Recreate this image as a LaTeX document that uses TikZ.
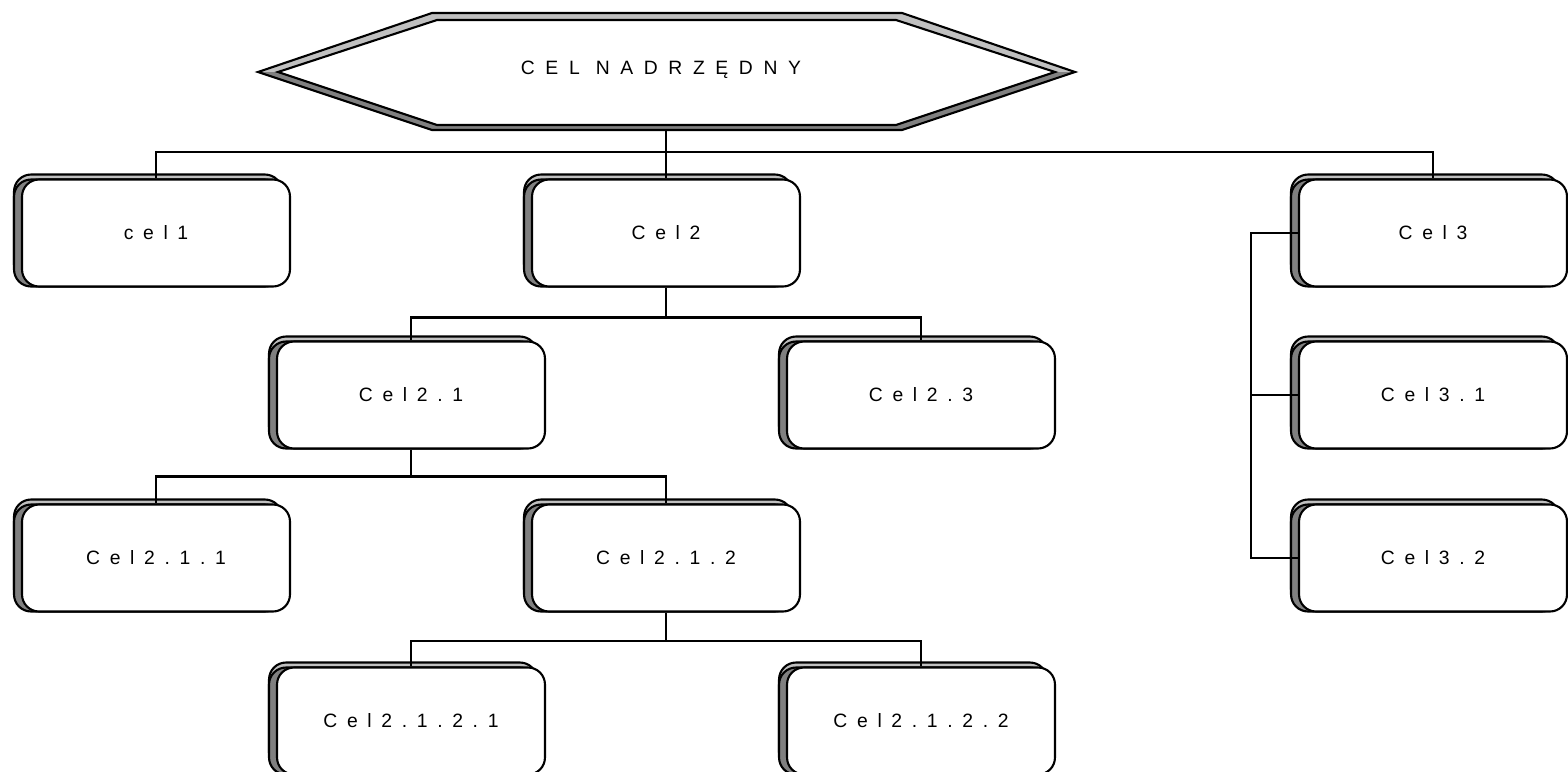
\documentclass[tikz,border=0pt]{standalone}
\usepackage{fontspec}
\usetikzlibrary{shadows}
\newfontfamily\celfont[LetterSpace=50]{Liberation Sans}
\newfontfamily\topfont[LetterSpace=55]{Liberation Sans}
\definecolor{bandlight}{HTML}{C0C0C0}
\definecolor{banddark}{HTML}{808080}
\tikzset{
  cel/.style={draw=black, fill=white, line width=1.2pt, rounded corners=0.34cm,
    minimum width=5.36cm, minimum height=2.14cm, inner sep=0pt,
    font=\celfont\fontsize{11}{13}\selectfont,
    general shadow={fill=bandlight, draw=black, shadow xshift=-0.16cm, shadow yshift=0.1cm},
    general shadow={fill=banddark, draw=black, shadow xshift=-0.16cm}},
  link/.style={line width=1.2pt}
}

\begin{document}
\begin{tikzpicture}[x=0.02cm, y=-0.02cm]
  \useasboundingbox (0,0) rectangle (1568,771);
  \fill[bandlight]
  (258,72) -- (432,13) -- (902,13) -- (1075,72) -- cycle;
  \fill[banddark]
  (258,72) -- (432,130) -- (902,130) -- (1075,72) -- cycle;
  \draw[line width=1.2pt, fill=white]
  (278,72) -- (437,20) -- (896,20) -- (1055,72) -- (896,125) -- (437,125) -- cycle;
  \draw[line width=1.2pt]
  (258,72) -- (432,13) -- (902,13) -- (1075,72) -- (902,130) -- (432,130) -- cycle;
  \node[font=\topfont\fontsize{11}{13}\selectfont] (nadrz) at (661,70) {CEL NADRZĘDNY};
  \coordinate (nadrzdol) at (666,130);

  \node[cel] (cel1) at (156,233) {cel1};
  \node[cel] (cel2) at (666,233) {Cel2};
  \node[cel] (cel3) at (1433,233) {Cel3};
  \node[cel] (cel21) at (411,395) {Cel2.1};
  \node[cel] (cel23) at (921,395) {Cel2.3};
  \node[cel] (cel31) at (1433,395) {Cel3.1};
  \node[cel] (cel211) at (156,558) {Cel2.1.1};
  \node[cel] (cel212) at (666,558) {Cel2.1.2};
  \node[cel] (cel32) at (1433,558) {Cel3.2};
  \node[cel] (cel2121) at (411,721) {Cel2.1.2.1};
  \node[cel] (cel2122) at (921,721) {Cel2.1.2.2};

  \draw[link] (nadrzdol) -- ++(0,22) -| (cel1.north);
  \draw[link] (nadrzdol) -- (cel2.north);
  \draw[link] (nadrzdol) -- ++(0,22) -| (cel3.north);
  \draw[link] (cel2.south) -- ++(0,30) -| (cel21.north);
  \draw[link] (cel2.south) -- ++(0,30) -| (cel23.north);
  \draw[link] (cel21.south) -- ++(0,27) -| (cel211.north);
  \draw[link] (cel21.south) -- ++(0,27) -| (cel212.north);
  \draw[link] (cel212.south) -- ++(0,28) -| (cel2121.north);
  \draw[link] (cel212.south) -- ++(0,28) -| (cel2122.north);
  \draw[link] (cel3.west) -- ++(-47,0) |- (cel31.west);
  \draw[link] (cel3.west) -- ++(-47,0) |- (cel32.west);
\end{tikzpicture}
\end{document}
